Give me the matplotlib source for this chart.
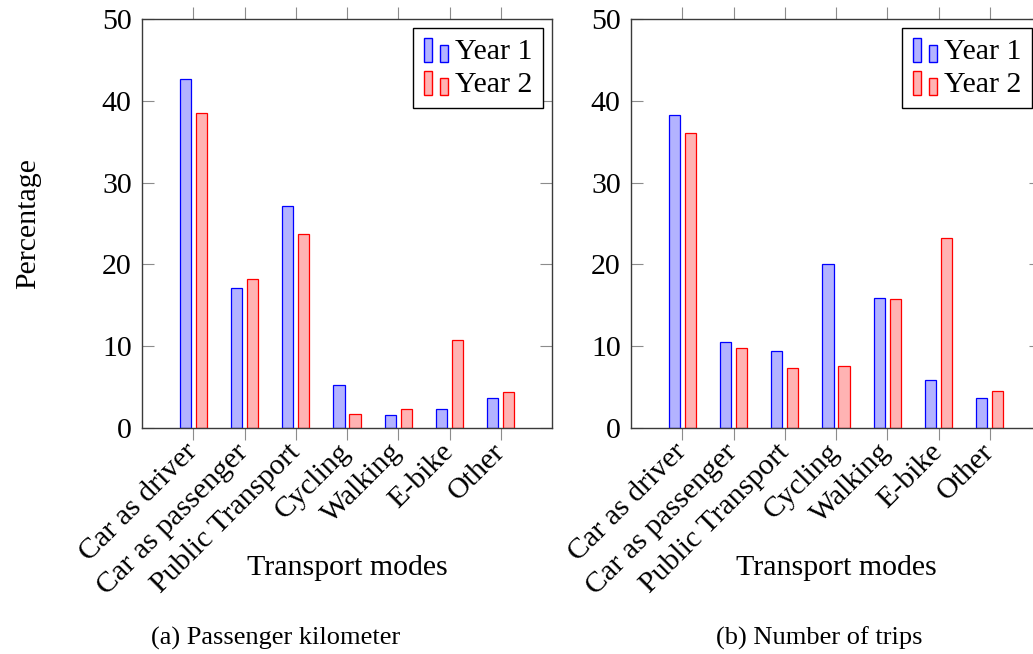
import matplotlib
matplotlib.use("Agg")
import matplotlib.pyplot as plt
import numpy as np
from matplotlib.patches import Rectangle
from matplotlib.legend_handler import HandlerBase
from matplotlib.container import BarContainer

modes = ["Car as driver", "Car as passenger", "Public Transport", "Cycling",
         "Walking", "E-bike", "Other"]

# (a) passenger kilometer, percent
pkm_year1 = [42.6, 17.1, 27.1, 5.3, 1.6, 2.4, 3.7]
pkm_year2 = [38.5, 18.2, 23.7, 1.7, 2.4, 10.8, 4.4]

# (b) number of trips, percent
trips_year1 = [38.2, 10.5, 9.4, 20.0, 15.9, 5.9, 3.7]
trips_year2 = [36.0, 9.8, 7.3, 7.6, 15.8, 23.2, 4.5]

series_names = ["Year 1", "Year 2"]
y_ticks = [0, 10, 20, 30, 40, 50]

plt.rcParams['font.family'] = ['Liberation Serif', 'DejaVu Serif']
FS = 21.5
CAP_FS = 19

fill_cols = [(0.7, 0.7, 1.0), (1.0, 0.7, 0.7)]
edge_cols = [(0, 0, 1), (1, 0, 0)]


class TwoBars(HandlerBase):
    # pgfplots style ybar legend image: two little bars
    def create_artists(self, legend, orig_handle, xdescent, ydescent,
                       width, height, fontsize, trans):
        p = orig_handle.patches[0]
        fc, ec = p.get_facecolor(), p.get_edgecolor()
        w = width * 0.34
        x0, y0 = -xdescent, -ydescent - 0.15 * height
        r1 = Rectangle((x0, y0), w, height * 1.15, fc=fc, ec=ec, lw=1.0,
                       transform=trans)
        r2 = Rectangle((x0 + width - w, y0), w, height * 0.82, fc=fc, ec=ec,
                       lw=1.0, transform=trans)
        return [r1, r2]


def draw_panel(ax, v1, v2):
    x = np.arange(len(modes))
    bw = 0.22
    off = 0.155
    b1 = ax.bar(x - off, v1, bw, color=fill_cols[0], edgecolor=edge_cols[0],
                linewidth=0.9, label=series_names[0])
    b2 = ax.bar(x + off, v2, bw, color=fill_cols[1], edgecolor=edge_cols[1],
                linewidth=0.9, label=series_names[1])
    ax.set_xlim(-1, len(modes))
    ax.set_ylim(0, 50)
    ax.set_yticks(y_ticks)
    ax.set_xticks(x)
    ax.set_xticklabels(modes, rotation=45, ha='right', va='center',
                       rotation_mode='anchor')
    ax.tick_params(axis='x', direction='out', length=8.3, width=0.8,
                   color='#8c8c8c', top=True, labelsize=FS, pad=6)
    ax.tick_params(axis='y', direction='in', length=8.3, width=0.8,
                   color='#8c8c8c', right=True, labelsize=FS, pad=7.4)
    for s in ax.spines.values():
        s.set_color('#3a3a3a')
        s.set_linewidth(1.0)
    ax.text(0.5, -0.341, "Transport modes", transform=ax.transAxes,
            ha='center', va='center', fontsize=FS)
    leg = ax.legend(handler_map={BarContainer: TwoBars()}, loc='upper right',
                    fontsize=FS, frameon=True, fancybox=False, framealpha=1,
                    edgecolor='black', borderaxespad=0.3, handlelength=0.8,
                    handleheight=0.7, handletextpad=0.25, borderpad=0.35,
                    labelspacing=0.2)
    leg.get_frame().set_linewidth(1.0)
    return b1, b2


fig = plt.figure(figsize=(10.33, 6.54), dpi=100)
ax1 = fig.add_axes([142 / 1033, 1 - 428.3 / 654, 410 / 1033, 409.6 / 654])
ax2 = fig.add_axes([631 / 1033, 1 - 428.3 / 654, 410 / 1033, 409.6 / 654])

draw_panel(ax1, pkm_year1, pkm_year2)
draw_panel(ax2, trips_year1, trips_year2)

fig.text(28 / 1033, 1 - 223.5 / 654, "Percentage", rotation=90,
         ha='center', va='center', fontsize=FS)
fig.text(276 / 1033, 1 - 638 / 654, "(a) Passenger kilometer",
         ha='center', va='center', fontsize=CAP_FS)
fig.text(819 / 1033, 1 - 638 / 654, "(b) Number of trips",
         ha='center', va='center', fontsize=CAP_FS)

fig.savefig("out.png", dpi=100)
